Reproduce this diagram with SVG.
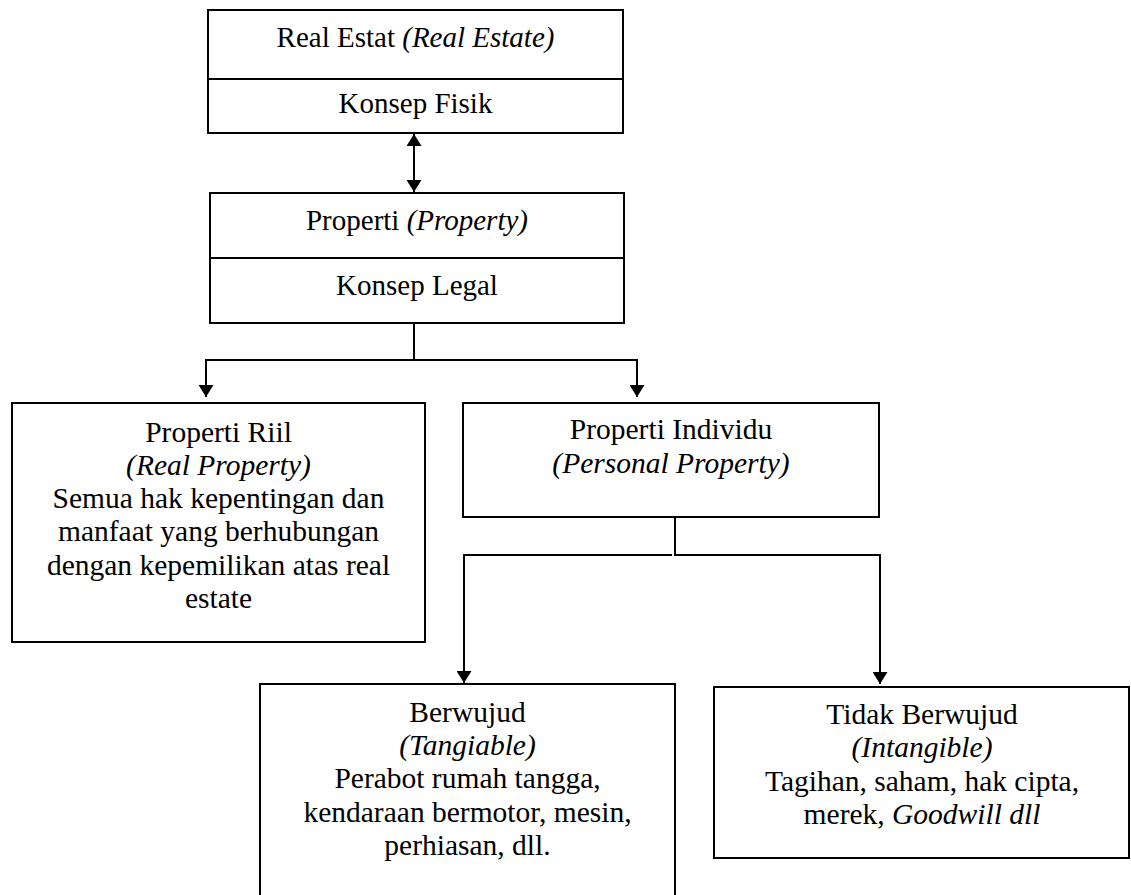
<svg xmlns="http://www.w3.org/2000/svg" width="1131" height="895" viewBox="0 0 1131 895">
<style>
.box{fill:#fff;stroke:#000;stroke-width:2}
.ln{fill:none;stroke:#000;stroke-width:2}
text{font-family:"Liberation Serif","Times New Roman",serif;font-size:29px;fill:#000;text-anchor:middle}
.lg text{font-size:29.5px}
.it{font-style:italic}
</style>
<defs>
<marker id="ah" viewBox="0 0 12 15" refX="12" refY="7.5" markerWidth="12" markerHeight="15" markerUnits="userSpaceOnUse" orient="auto">
<path d="M0,0 L12,7.5 L0,15 Z" fill="#000"/>
</marker>
<marker id="ahs" viewBox="0 0 12 15" refX="0" refY="7.5" markerWidth="12" markerHeight="15" markerUnits="userSpaceOnUse" orient="auto">
<path d="M12,0 L0,7.5 L12,15 Z" fill="#000"/>
</marker>
</defs>
<g id="connectors">
<line class="ln" x1="414" y1="134" x2="414" y2="192" marker-start="url(#ahs)" marker-end="url(#ah)"/>
<path class="ln" d="M414,323 V360 H206 V397" marker-end="url(#ah)"/>
<path class="ln" d="M414,360 H637 V397" marker-end="url(#ah)"/>
<path class="ln" d="M675,517 V555 H880 V684" marker-end="url(#ah)"/>
<path class="ln" d="M672,555 H464 V683" marker-end="url(#ah)"/>
</g>
<g id="real-estate">
<rect class="box" x="208" y="10" width="415" height="123"/>
<line class="ln" x1="208" y1="79" x2="623" y2="79"/>
<text x="415.5" y="47">Real Estat <tspan class="it">(Real Estate)</tspan></text>
<text x="415.5" y="113">Konsep Fisik</text>
</g>
<g id="properti">
<rect class="box" x="210" y="193" width="414" height="130"/>
<line class="ln" x1="210" y1="258" x2="624" y2="258"/>
<text x="417" y="230">Properti <tspan class="it">(Property)</tspan></text>
<text x="417" y="295">Konsep Legal</text>
</g>
<g id="properti-riil" class="lg">
<rect class="box" x="12" y="403" width="413" height="239"/>
<text x="218.5" y="442">Properti Riil</text>
<text x="218.5" y="475" class="it">(Real Property)</text>
<text x="218.5" y="508">Semua hak kepentingan dan</text>
<text x="218.5" y="541">manfaat yang berhubungan</text>
<text x="218.5" y="575">dengan kepemilikan atas real</text>
<text x="218.5" y="608">estate</text>
</g>
<g id="properti-individu" class="lg">
<rect class="box" x="463" y="403" width="416" height="114"/>
<text x="671" y="439">Properti Individu</text>
<text x="671" y="473" class="it">(Personal Property)</text>
</g>
<g id="berwujud" class="lg">
<rect class="box" x="260" y="684" width="415" height="220"/>
<text x="467.5" y="722">Berwujud</text>
<text x="467.5" y="755" class="it">(Tangiable)</text>
<text x="467.5" y="788">Perabot rumah tangga,</text>
<text x="467.5" y="822">kendaraan bermotor, mesin,</text>
<text x="467.5" y="855">perhiasan, dll.</text>
</g>
<g id="tidak-berwujud" class="lg">
<rect class="box" x="714" y="687" width="415" height="171"/>
<text x="922" y="724">Tidak Berwujud</text>
<text x="922" y="757" class="it">(Intangible)</text>
<text x="922" y="791">Tagihan, saham, hak cipta,</text>
<text x="922" y="824">merek, <tspan class="it">Goodwill dll</tspan></text>
</g>
</svg>
